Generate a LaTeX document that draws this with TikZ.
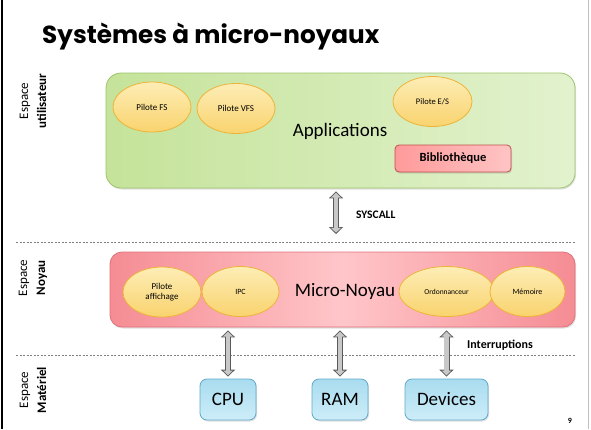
\documentclass[tikz,border=0pt]{standalone}
\usepackage{fontspec}
\setmainfont{Carlito}
\newfontfamily\titlefont{Poppins}
\usetikzlibrary{arrows.meta,shapes.geometric,shadows}
\definecolor{appleft}{HTML}{C5E39A}
\definecolor{appright}{HTML}{E2F2CE}
\definecolor{appline}{HTML}{9DC46A}
\definecolor{drvtop}{HTML}{FDEDB5}
\definecolor{drvbot}{HTML}{F9D36E}
\definecolor{drvline}{HTML}{EDB43A}
\definecolor{libleft}{HTML}{FF9A9A}
\definecolor{libright}{HTML}{FFC4C4}
\definecolor{libline}{HTML}{C0504D}
\definecolor{krnside}{HTML}{F58C94}
\definecolor{krnmid}{HTML}{FFC6C9}
\definecolor{krnline}{HTML}{E0707A}
\definecolor{hwtop}{HTML}{A9DCEF}
\definecolor{hwbot}{HTML}{CDEDF8}
\definecolor{hwline}{HTML}{5FA9C9}
\definecolor{arrowfill}{HTML}{C8C8C8}
\definecolor{arrowline}{HTML}{5A5A5A}

\begin{document}
\begin{tikzpicture}[x=1pt,y=-1pt]
	\tikzstyle{every node}+=[inner sep=0pt]
	\tikzstyle{soft}=[drop shadow={shadow xshift=1pt,shadow yshift=-1.5pt,opacity=0.25}]
	\tikzstyle{drv}=[ellipse,draw=drvline,line width=0.8pt,top color=drvtop,bottom color=drvbot,minimum height=50pt,align=center]
	\tikzstyle{hw}=[rectangle,rounded corners=7pt,draw=hwline,line width=0.8pt,top color=hwtop,bottom color=hwbot,minimum height=41pt,font=\fontsize{19}{22}\selectfont,soft]
	\tikzstyle{side}=[rotate=90,align=center,font=\fontsize{13}{18}\selectfont]
	\tikzstyle{sep}=[draw=gray,line width=0.8pt,dash pattern=on 2pt off 1.5pt]
	\tikzstyle{biarrow}=[preaction={draw=arrowline,line width=6pt,shorten <=3pt,shorten >=2pt,{Triangle[length=7pt,width=14pt]}-{Triangle[length=7pt,width=14pt]}},draw=arrowfill,line width=4.2pt,shorten <=4.3pt,shorten >=3.3pt,{Triangle[length=4.8pt,width=9.6pt]}-{Triangle[length=4.8pt,width=9.6pt]}]
	\useasboundingbox (0,0) rectangle (591,429);
	\draw [black,line width=1.2pt] (2,0) -- (2,429);
	\draw [gray!50] (588.5,0) -- (588.5,429);
	\node [anchor=base west,font=\titlefont\bfseries\fontsize{24.7}{28}\selectfont] (title) at (42,43) {Systèmes à micro-noyaux};
	\node [side] (lbluser) at (33,101) {Espace\\\textbf{utilisateur}};
	\node [side] (lblkrn) at (33,278) {Espace\\\textbf{Noyau}};
	\node [side] (lblhw) at (33,390) {Espace\\\textbf{Matériel}};
	\node [rectangle,rounded corners=15pt,draw=appline,line width=0.8pt,left color=appleft,right color=appright,minimum width=469pt,minimum height=115pt,soft] (apps) at (340.5,130.5) {};
	\node [drv,minimum width=78pt,font=\fontsize{9}{10}\selectfont] (pfs) at (152,107) {Pilote FS};
	\node [drv,minimum width=78pt,font=\fontsize{9}{10}\selectfont] (pvfs) at (236,108.5) {Pilote VFS};
	\node [drv,minimum width=79pt,font=\fontsize{8.5}{10}\selectfont] (pes) at (432.5,101.5) {Pilote E/S};
	\node [font=\fontsize{19}{22}\selectfont] (appstxt) at (340,131) {Applications};
	\node [rectangle,rounded corners=4pt,draw=libline,line width=0.8pt,left color=libleft,right color=libright,minimum width=116pt,minimum height=27pt,font=\bfseries\fontsize{12.5}{14}\selectfont,soft] (lib) at (453,158.5) {Bibliothèque};
	\coordinate (sysend) at (336,236);
	\draw [biarrow] (apps.south -| sysend) -- (sysend);
	\node [anchor=west,font=\bfseries\fontsize{11.5}{13}\selectfont] (syscall) at (356,215) {SYSCALL};
	\draw [sep] (16,242.5) -- (575,242.5);
	\node [rectangle,rounded corners=12pt,draw=krnline,line width=0.8pt,left color=krnside,right color=krnside,middle color=krnmid,minimum width=465pt,minimum height=75pt,soft] (kernel) at (342.5,289.5) {};
	\node [drv,minimum width=78pt,font=\fontsize{9}{10.5}\selectfont] (paff) at (162,292) {Pilote\\affichage};
	\node [drv,minimum width=77pt,font=\fontsize{8}{10}\selectfont] (ipc) at (240.5,291.5) {IPC};
	\node [drv,minimum width=95pt,font=\fontsize{7.5}{10}\selectfont] (ord) at (446.5,291.5) {Ordonnanceur};
	\node [drv,minimum width=75pt,font=\fontsize{8}{10}\selectfont] (mem) at (527.5,291.5) {Mémoire};
	\node [font=\fontsize{19}{22}\selectfont] (krntxt) at (345,291) {Micro-Noyau};
	\draw [sep] (16,355.5) -- (575,355.5);
	\node [hw,minimum width=56pt] (cpu) at (228,399.5) {CPU};
	\node [hw,minimum width=56pt] (ram) at (340,399.5) {RAM};
	\node [hw,minimum width=83pt] (dev) at (446.5,399.5) {Devices};
	\draw [biarrow] (kernel.south -| cpu) -- (cpu.north);
	\draw [biarrow] (kernel.south -| ram) -- (ram.north);
	\draw [biarrow] (kernel.south -| dev) -- (dev.north);
	\node [anchor=west,font=\bfseries\fontsize{12}{14}\selectfont] (irq) at (467,345) {Interruptions};
	\node [font=\bfseries\fontsize{8}{9}\selectfont] (pagenum) at (570,421) {9};
\end{tikzpicture}
\end{document}
